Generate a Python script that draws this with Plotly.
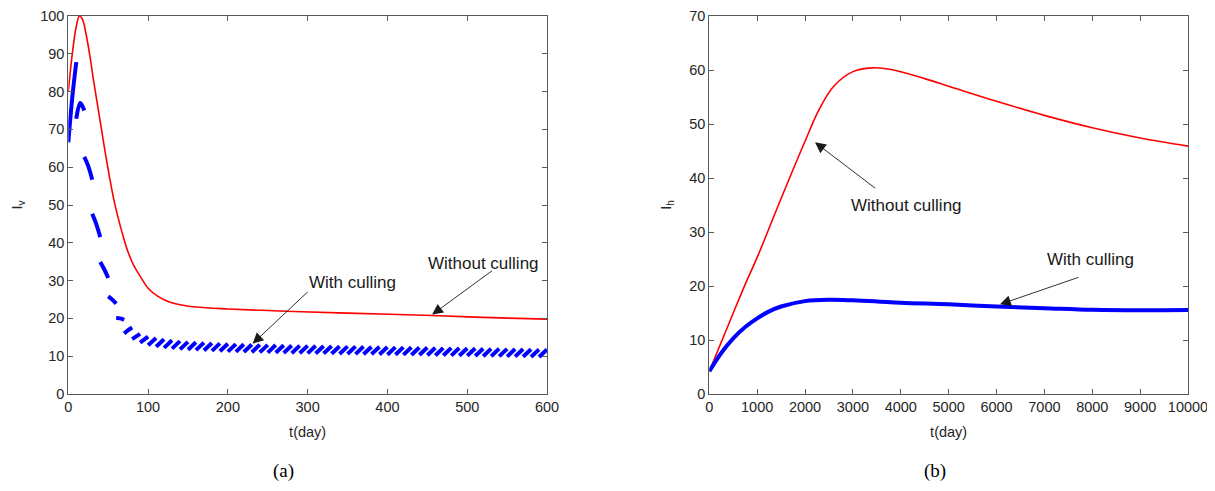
import plotly.graph_objects as go

# ---------------- Panel (a): I_v ----------------
red_a_t = [0, 5, 10, 14, 18, 22, 27, 32, 37, 42, 47, 52, 57, 62, 68, 75, 82, 90, 100,
           112, 125, 140, 160, 200, 273, 350, 456, 530, 600]
red_a_v = [80, 90, 97.3, 100, 99, 95.5, 89.5, 82.5, 76, 69.5, 63, 57, 51.5, 47, 42.3, 37.5,
           34.0, 31.2, 28.0, 25.9, 24.5, 23.6, 23.0, 22.5, 21.9, 21.4, 20.75, 20.2, 19.8]

# With culling (blue): pulse culling every 10 days -> one segment per inter-pulse period
cull_period = 10
cull_t0 = list(range(0, 600, cull_period))
cull_start = [66.6, 72.8, 62.7, 47.7, 34.9, 25.8, 20.1, 16.0, 14.5, 13.6,
              12.9, 12.5, 12.2, 12.0, 11.8, 11.7, 11.6, 11.5, 11.4, 11.3,
              11.2, 11.15, 11.1, 11.05, 11.0, 10.95, 10.9, 10.85, 10.8, 10.8,
              10.75, 10.7, 10.7, 10.65, 10.6, 10.6, 10.55, 10.5, 10.5, 10.45,
              10.4, 10.4, 10.35, 10.3, 10.3, 10.25, 10.2, 10.2, 10.15, 10.1,
              10.1, 10.05, 10.0, 10.0, 9.95, 9.9, 9.9, 9.85, 9.8, 9.8]
cull_end = [87.8, 75.0, 56.7, 41.5, 30.7, 23.9, 19.6, 17.6, 15.9, 15.2,
            14.8, 14.5, 14.2, 14.0, 13.8, 13.7, 13.6, 13.5, 13.4, 13.3,
            13.2, 13.15, 13.1, 13.05, 13.0, 12.95, 12.9, 12.85, 12.8, 12.8,
            12.75, 12.7, 12.7, 12.65, 12.6, 12.6, 12.55, 12.5, 12.5, 12.45,
            12.4, 12.4, 12.35, 12.3, 12.3, 12.25, 12.2, 12.2, 12.15, 12.1,
            12.1, 12.05, 12.0, 12.0, 11.95, 11.9, 11.9, 11.85, 11.8, 11.8]
# mid-period values for the first (curved) segments
cull_mid_early = [78.5, 77.0, 60.3, 45.0, 33.0, 25.0, 20.0, 16.9]

# ---------------- Panel (b): I_h ----------------
red_b_t = [0, 250, 500, 750, 1000, 1500, 2000, 2300, 2600, 3000, 3400, 3800, 4500, 5000,
           6000, 7000, 8000, 9000, 10000]
red_b_v = [4.2, 9.6, 15.0, 20.3, 25.3, 36.2, 46.8, 52.8, 57.0, 59.7, 60.4, 60.1, 58.4, 57.0,
           54.2, 51.6, 49.3, 47.4, 45.9]

blue_b_t = [0, 250, 500, 750, 1000, 1250, 1500, 2000, 2500, 3000, 3500, 4000, 5000, 6000,
            7000, 8000, 9000, 10000]
blue_b_v = [4.2, 7.6, 10.3, 12.4, 14.0, 15.3, 16.2, 17.2, 17.45, 17.35, 17.15, 16.9, 16.6,
            16.2, 15.9, 15.6, 15.5, 15.55]

xticks_a = [0, 100, 200, 300, 400, 500, 600]
yticks_a = [0, 10, 20, 30, 40, 50, 60, 70, 80, 90, 100]
xticks_b = [0, 1000, 2000, 3000, 4000, 5000, 6000, 7000, 8000, 9000, 10000]
yticks_b = [0, 10, 20, 30, 40, 50, 60, 70]

# build blue segment arrays (gaps at pulses)
seg_x, seg_y = [], []
for i, t0 in enumerate(cull_t0):
    if i < len(cull_mid_early):
        seg_x += [t0, t0 + cull_period / 2, t0 + cull_period, None]
        seg_y += [cull_start[i], cull_mid_early[i], cull_end[i], None]
    else:
        seg_x += [t0, t0 + cull_period, None]
        seg_y += [cull_start[i], cull_end[i], None]

# page is 1215x491 with the default 8px body margin; size the figure to fit
OFF = 8
W, H = 1215 - OFF, 491 - OFF


def px(x):
    return (x - OFF) / W


def py(y):
    return (H - (y - OFF)) / H


fig = go.Figure()

fig.add_trace(go.Scatter(x=red_a_t, y=red_a_v, mode="lines", line=dict(color="#ff0000", width=1.6, shape="spline"),
                         xaxis="x", yaxis="y", showlegend=False))
fig.add_trace(go.Scatter(x=seg_x, y=seg_y, mode="lines", line=dict(color="#0000ff", width=4, shape="spline"),
                         connectgaps=False, xaxis="x", yaxis="y", showlegend=False))
fig.add_trace(go.Scatter(x=red_b_t, y=red_b_v, mode="lines", line=dict(color="#ff0000", width=1.6, shape="spline"),
                         xaxis="x2", yaxis="y2", showlegend=False))
fig.add_trace(go.Scatter(x=blue_b_t, y=blue_b_v, mode="lines", line=dict(color="#0000ff", width=4, shape="spline"),
                         xaxis="x2", yaxis="y2", showlegend=False))

axis_font = dict(family="Liberation Sans, Arial, sans-serif", size=14.5, color="#262626")
common = dict(showgrid=False, zeroline=False, showline=True, linecolor="#5a5a5a", linewidth=1,
              mirror="ticks", ticks="inside", ticklen=5, tickcolor="#5a5a5a", tickwidth=1,
              tickfont=axis_font, automargin=False)

ydom = [py(394), py(16)]
fig.update_layout(
    width=W, height=H, margin=dict(l=0, r=0, t=0, b=0),
    paper_bgcolor="white", plot_bgcolor="white",
    xaxis=dict(domain=[px(68.3), px(547)], range=[0, 600], tickvals=xticks_a,
               ticktext=[str(v) for v in xticks_a], anchor="y",
               title=dict(text="t(day)", font=axis_font, standoff=12), **common),
    yaxis=dict(domain=ydom, range=[0, 100], tickvals=yticks_a,
               ticktext=[str(v) for v in yticks_a], anchor="x",
               title=dict(text="I<sub>v</sub>", font=axis_font, standoff=14), **common),
    xaxis2=dict(domain=[px(709.3), px(1188)], range=[0, 10000], tickvals=xticks_b,
                ticktext=[str(v) for v in xticks_b], anchor="y2",
                title=dict(text="t(day)", font=axis_font, standoff=12), **common),
    yaxis2=dict(domain=ydom, range=[0, 70], tickvals=yticks_b,
                ticktext=[str(v) for v in yticks_b], anchor="x2",
                title=dict(text="I<sub>h</sub>", font=axis_font, standoff=14), **common),
)

ann_font = dict(family="Liberation Sans, Arial, sans-serif", size=17, color="#1a1a1a")
arrows = [
    # (xref, yref, head_x, head_y, tail_x, tail_y)
    ("x", "y", 231, 13.3, 302, 27.4),
    ("x", "y", 456, 21.0, 533, 32.9),
    ("x2", "y2", 2208, 46.6, 3497, 37.9),
    ("x2", "y2", 6073, 16.6, 7744, 21.7),
]
for xr, yr, hx, hy, tx, ty in arrows:
    fig.add_annotation(x=hx, y=hy, ax=tx, ay=ty, xref=xr, yref=yr, axref=xr, ayref=yr,
                       text="", showarrow=True, arrowhead=2, arrowsize=2.4, arrowwidth=0.9,
                       arrowcolor="#1a1a1a")
labels = [
    ("x", "y", 356, 29.5, "With culling"),
    ("x", "y", 521, 34.5, "Without culling"),
    ("x2", "y2", 4109, 34.9, "Without culling"),
    ("x2", "y2", 7953, 24.9, "With culling"),
]
for xr, yr, lx, ly, txt in labels:
    fig.add_annotation(x=lx, y=ly, xref=xr, yref=yr, text=txt, showarrow=False, font=ann_font,
                       xanchor="center", yanchor="middle")

serif = dict(family="Liberation Serif, Times New Roman, serif", size=19, color="black")
fig.add_annotation(x=px(283), y=py(471), xref="paper", yref="paper", text="(a)",
                   showarrow=False, font=serif, xanchor="center", yanchor="middle")
fig.add_annotation(x=px(935), y=py(471), xref="paper", yref="paper", text="(b)",
                   showarrow=False, font=serif, xanchor="center", yanchor="middle")

fig.write_html("out.html")
